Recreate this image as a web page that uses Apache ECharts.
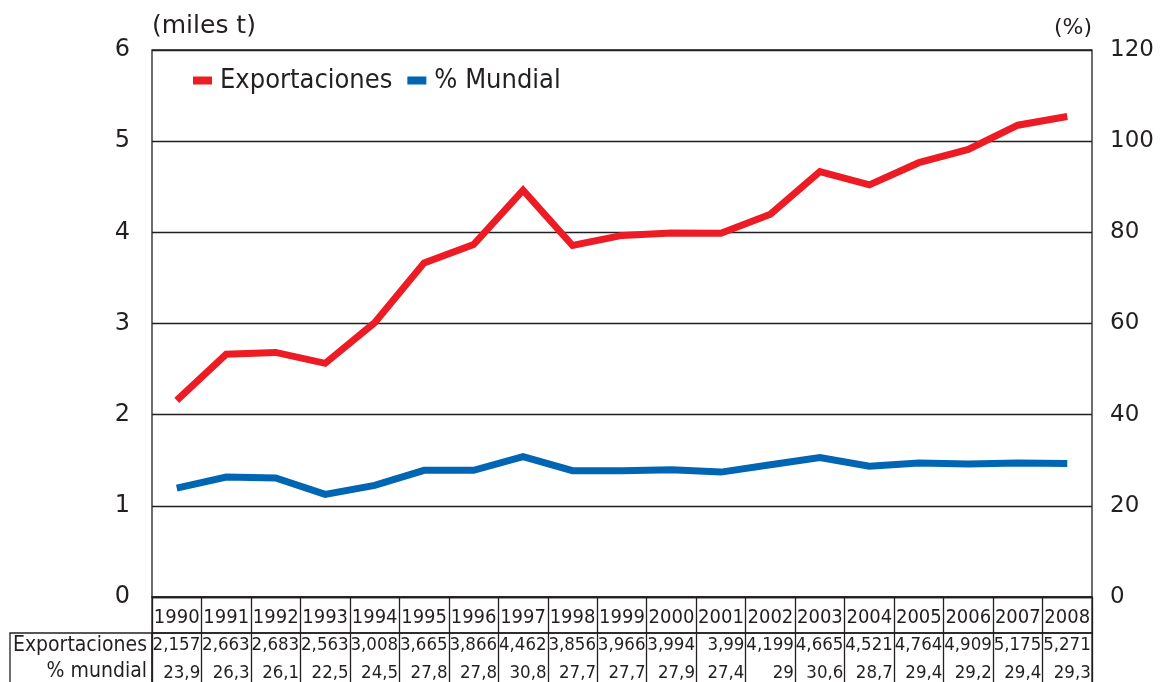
<!DOCTYPE html>
<html>
<head>
<meta charset="utf-8">
<script src="https://cdn.jsdelivr.net/npm/echarts@6/dist/echarts.min.js"></script>
<style>html,body{margin:0;padding:0;background:#fff}#c{width:1161px;height:682px}</style>
</head>
<body>
<div id="c"></div>
<script>
const years = ['1990','1991','1992','1993','1994','1995','1996','1997','1998','1999','2000','2001','2002','2003','2004','2005','2006','2007','2008'];
const exportaciones = [2.157,2.663,2.683,2.563,3.008,3.665,3.866,4.462,3.856,3.966,3.994,3.99,4.199,4.665,4.521,4.764,4.909,5.175,5.271];
const pctMundial = [23.9,26.3,26.1,22.5,24.5,27.8,27.8,30.8,27.7,27.7,27.9,27.4,29,30.6,28.7,29.4,29.2,29.4,29.3];
const rowHeaders = ['Exportaciones','% mundial'];
const leftTicks = {min:0,max:6,interval:1};
const rightTicks = {min:0,max:120,interval:20};

const fmt = v => String(v).replace('.', ',');
const INK = '#231f20';
const FONT = 'DejaVu Sans';
const CFONT = '"DejaVu Sans Condensed", "DejaVu Sans"';
const L = 152, R = 69;
const G = {show:true,borderColor:INK,borderWidth:1.3,backgroundColor:'transparent',containLabel:false,outerBoundsMode:'none'};

const chart = echarts.init(document.getElementById('c'), null, {renderer:'canvas'});
chart.setOption({
  animation:false,
  backgroundColor:'#fff',
  textStyle:{fontFamily:FONT,color:INK},
  legend:{
    left:188, top:62, icon:'rect', itemWidth:19, itemHeight:8, itemGap:15,
    textStyle:{fontFamily:CFONT,fontSize:27,color:INK,padding:[0,0,0,3]},
    data:['Exportaciones','% Mundial']
  },
  grid:[
    Object.assign({left:L,right:R,top:50,bottom:85},G),
    Object.assign({left:L,right:R,top:597,height:36},G),
    Object.assign({left:L,right:R,top:633,height:52},G),
    Object.assign({left:10,width:142,top:633,height:52},G)
  ],
  xAxis:[
    {type:'category',gridIndex:0,data:years,position:'bottom',boundaryGap:true,
     axisLine:{show:true,onZero:false,lineStyle:{color:INK,width:1.3}},axisTick:{show:false},
     axisLabel:{interval:0,margin:10,fontSize:20,lineHeight:22,color:INK,fontFamily:CFONT},splitLine:{show:false}},
    {type:'category',gridIndex:0,data:exportaciones.map(fmt),position:'bottom',offset:0,boundaryGap:true,
     axisLine:{show:false,onZero:false},axisTick:{show:false},splitLine:{show:false},
     axisLabel:{interval:0,margin:38,formatter:v=>'{v|'+v+'}',
       rich:{v:{width:47,align:'right',fontSize:18.5,lineHeight:20,color:INK,fontFamily:CFONT}}}},
    {type:'category',gridIndex:0,data:pctMundial.map(fmt),position:'bottom',offset:0,boundaryGap:true,
     axisLine:{show:false,onZero:false},axisTick:{show:false},splitLine:{show:false},
     axisLabel:{interval:0,margin:66,formatter:v=>'{v|'+v+'}',
       rich:{v:{width:47,align:'right',fontSize:18.5,lineHeight:20,color:INK,fontFamily:CFONT}}}},
    {type:'category',gridIndex:1,data:years,boundaryGap:true,axisLine:{show:false},axisTick:{show:false},axisLabel:{show:false},
     splitLine:{show:true,interval:0,lineStyle:{color:INK,width:1.3}}},
    {type:'category',gridIndex:2,data:years,boundaryGap:true,axisLine:{show:false},axisTick:{show:false},axisLabel:{show:false},
     splitLine:{show:true,interval:0,lineStyle:{color:INK,width:1.3}}},
    {type:'value',gridIndex:3,show:false}
  ],
  yAxis:[
    {type:'value',gridIndex:0,position:'left',min:leftTicks.min,max:leftTicks.max,interval:leftTicks.interval,
     name:'(miles t)',nameLocation:'end',nameGap:11,
     nameTextStyle:{fontSize:25,color:INK,align:'left',fontFamily:FONT},
     axisLine:{show:false},axisTick:{show:false},
     axisLabel:{margin:22,fontSize:24,color:INK,fontFamily:FONT},
     splitLine:{show:true,lineStyle:{color:INK,width:1.3}}},
    {type:'value',gridIndex:0,position:'right',min:rightTicks.min,max:rightTicks.max,interval:rightTicks.interval,
     name:'(%)',nameLocation:'end',nameGap:11,
     nameTextStyle:{fontSize:22,color:INK,align:'right',fontFamily:FONT},
     axisLine:{show:false},axisTick:{show:false},
     axisLabel:{margin:18,fontSize:23,color:INK,fontFamily:FONT},
     splitLine:{show:false}},
    {type:'value',gridIndex:1,show:false},
    {type:'value',gridIndex:2,show:false},
    {type:'category',gridIndex:3,data:rowHeaders,inverse:true,position:'right',boundaryGap:true,
     axisLine:{show:false},axisTick:{show:false},splitLine:{show:false},
     axisLabel:{interval:0,hideOverlap:false,inside:true,margin:5,fontSize:21,color:INK,fontFamily:CFONT}}
  ],
  series:[
    {name:'Exportaciones',type:'line',xAxisIndex:0,yAxisIndex:0,data:exportaciones,
     showSymbol:false,symbol:'none',color:'#ed1c24',lineStyle:{width:7,color:'#ed1c24',join:'miter'}},
    {name:'% Mundial',type:'line',xAxisIndex:0,yAxisIndex:1,data:pctMundial,
     showSymbol:false,symbol:'none',color:'#0066b3',lineStyle:{width:7,color:'#0066b3',join:'miter'}}
  ]
});
</script>
</body>
</html>
